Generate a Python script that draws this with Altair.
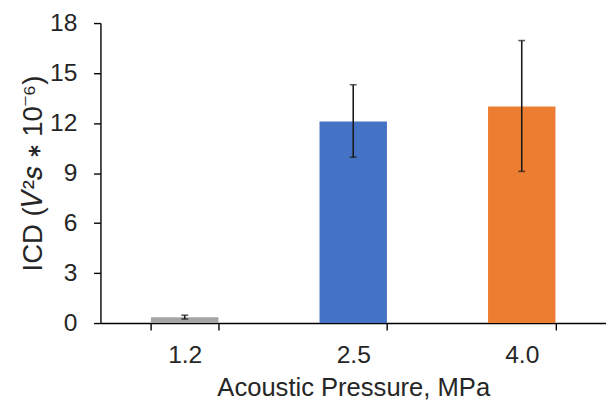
import altair as alt
import pandas as pd

pressures = ["1.2", "2.5", "4.0"]
icd_mean = [0.35, 12.1, 13.0]
icd_low = [0.24, 9.95, 9.1]
icd_high = [0.47, 14.3, 16.95]
bar_colors = ["#A5A5A5", "#4472C4", "#ED7D31"]

df = pd.DataFrame({
    "p": pressures,
    "mean": icd_mean,
    "low": icd_low,
    "high": icd_high,
})

FONT = "Liberation Sans"

x = alt.X("p:N", sort=pressures, title="Acoustic Pressure, MPa",
          scale=alt.Scale(paddingInner=0.6, paddingOuter=0.3),
          axis=alt.Axis(labelAngle=0, tickBand="extent", labelFontSize=25,
                        titleFontSize=26, labelPadding=13, titlePadding=8,
                        tickSize=7, labelColor="#262626", titleColor="#262626"))
y_scale = alt.Scale(domain=[0, 18], nice=False)

bars = alt.Chart(df).mark_bar().encode(
    x=x,
    y=alt.Y("mean:Q", scale=y_scale,
            title="ICD (𝑉²𝑠 ∗ 10⁻⁶)",
            axis=alt.Axis(values=[0, 3, 6, 9, 12, 15, 18], labelFontSize=25,
                          titleFontSize=28, labelPadding=17, titlePadding=2,
                          tickSize=7, grid=False, labelColor="#262626",
                          titleColor="#262626")),
    color=alt.Color("p:N", scale=alt.Scale(domain=pressures, range=bar_colors),
                    legend=None),
)

err = alt.Chart(df).mark_rule(color="#1a1a1a", strokeWidth=1.6).encode(
    x=alt.X("p:N", sort=pressures),
    y=alt.Y("low:Q", scale=y_scale),
    y2="high:Q",
)
cap_lo = alt.Chart(df).mark_tick(color="#1a1a1a", thickness=1.6, size=7,
                                 orient="horizontal").encode(
    x=alt.X("p:N", sort=pressures),
    y=alt.Y("low:Q", scale=y_scale),
)
cap_hi = alt.Chart(df).mark_tick(color="#1a1a1a", thickness=1.6, size=7,
                                 orient="horizontal").encode(
    x=alt.X("p:N", sort=pressures),
    y=alt.Y("high:Q", scale=y_scale),
)

chart = alt.layer(bars, err, cap_lo, cap_hi).properties(
    width=514, height=305,
    padding={"left": 12, "top": 0, "right": 0, "bottom": 0},
).configure_axis(
    domainColor="#000000", tickColor="#000000", domainWidth=1.4, tickWidth=1.4,
    labelFont=FONT, titleFont=FONT, titleFontWeight="normal",
).configure_view(stroke=None)

chart.save("out.html", embed_options={"renderer": "svg", "actions": False})
